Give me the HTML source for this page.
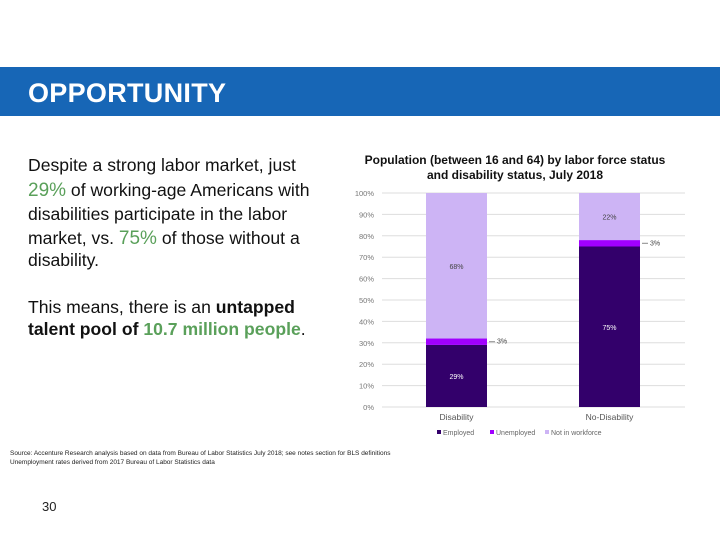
<!DOCTYPE html>
<html><head><meta charset="utf-8"><style>
body{margin:0;width:720px;height:540px;background:#fff;position:relative;overflow:hidden;font-family:"Liberation Sans",sans-serif}
.l{position:absolute;left:28px;font-size:17.6px;color:#111;white-space:nowrap;line-height:20px}
.g{color:#5aa05a}
.big{font-size:19px}
</style></head><body>
<div style="position:absolute;left:0;top:67px;width:720px;height:49px;background:#1766b6"></div>
<div style="position:absolute;left:28px;top:78px;font-size:27px;font-weight:bold;color:#fff;letter-spacing:0.3px">OPPORTUNITY</div>
<div>
<div class="l" style="top:155px">Despite a strong labor market, just</div>
<div class="l" style="top:180px"><span class="g big">29%</span> of working-age Americans with</div>
<div class="l" style="top:204px">disabilities participate in the labor</div>
<div class="l" style="top:228px">market, vs. <span class="g big">75%</span> of those without a</div>
<div class="l" style="top:250px">disability.</div>
<div class="l" style="top:297px">This means, there is an <b>untapped</b></div>
<div class="l" style="top:319px"><b>talent pool of <span class="g">10.7 million people</span></b>.</div>
</div>
<div style="position:absolute;left:10px;top:449px;font-size:6.5px;color:#222;line-height:9px">Source: Accenture Research analysis based on data from Bureau of Labor Statistics July 2018; see notes section for BLS definitions<br>Unemployment rates derived from 2017 Bureau of Labor Statistics data</div>
<div style="position:absolute;left:42px;top:499px;font-size:13px;color:#222">30</div>
<svg width="720" height="540" style="position:absolute;left:0;top:0" id="chart"></svg>
<script>
const categories=["Disability","No-Disability"];
const employed=[29,75];
const unemployed=[3,3];
const notInWorkforce=[68,22];
const seriesNames=["Employed","Unemployed","Not in workforce"];
const yTicks=[0,10,20,30,40,50,60,70,80,90,100];
const colors=["#33006b","#a100ff","#cdb4f5"];
const svg=document.getElementById('chart');
const NS="http://www.w3.org/2000/svg";
const y0=407,y1=193,xL=382,xR=685;
const y=v=>y0-(v/100)*(y0-y1);
const bx=[426,579],bw=61;
function mk(t,a,txt){const e=document.createElementNS(NS,t);for(const k in a)e.setAttribute(k,a[k]);if(txt!==undefined)e.textContent=txt;svg.appendChild(e);return e;}
let t=mk('text',{x:515,y:164,'text-anchor':'middle','font-size':12,'font-weight':'bold',fill:'#111'},'Population (between 16 and 64) by labor force status');

t=mk('text',{x:515,y:179,'text-anchor':'middle','font-size':12,'font-weight':'bold',fill:'#111'},'and disability status, July 2018');

yTicks.forEach(v=>{
 const l=mk('line',{x1:xL,x2:xR,y1:y(v),y2:y(v),stroke:'#ddd','stroke-width':1});
 
 const tx=mk('text',{x:374,y:y(v)+3,'text-anchor':'end','font-size':7.5,fill:'#777'},v+'%');
 
});
const series=[employed,unemployed,notInWorkforce];
categories.forEach((c,i)=>{
 let base=0;
 series.forEach((s,k)=>{
  const r=mk('rect',{x:bx[i],y:y(base+s[i]),width:bw,height:y(base)-y(base+s[i]),fill:colors[k]});
  
  
  const mid=y(base+s[i]/2)+3;
  if(k===1){
   const ln=mk('line',{x1:bx[i]+bw+2,x2:bx[i]+bw+8,y1:mid-3,y2:mid-3,stroke:'#888'});
   
   const lt=mk('text',{x:bx[i]+bw+10,y:mid-1,'font-size':7,fill:'#444'},s[i]+'%');
   
  } else {
   const lt=mk('text',{x:bx[i]+bw/2,y:mid,'text-anchor':'middle','font-size':7,fill:k===0?'#fff':'#444'},s[i]+'%');
   
  }
  base+=s[i];
 });
 const cl=mk('text',{x:bx[i]+bw/2,y:420,'text-anchor':'middle','font-size':8.5,fill:'#555'},c);
 
});
const lx=[437,490,545];
seriesNames.forEach((n,k)=>{
 const r=mk('rect',{x:lx[k],y:430,width:4,height:4,fill:colors[k]});
 
 const tx=mk('text',{x:lx[k]+6,y:435,'font-size':7,fill:'#666'},n);
 
});
</script>
</body></html>
